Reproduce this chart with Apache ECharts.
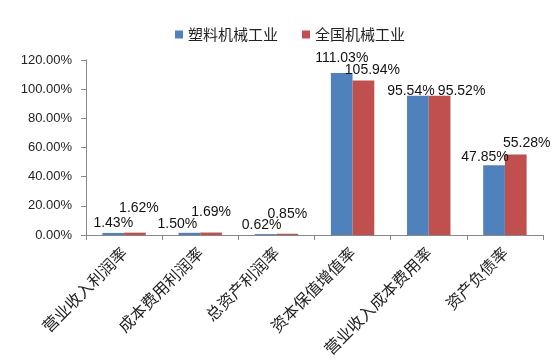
<!DOCTYPE html>
<html><head><meta charset="utf-8">
<script src="https://cdn.jsdelivr.net/npm/echarts@6/dist/echarts.min.js"></script>
<style>html,body{margin:0;padding:0;background:#fff}#c{width:558px;height:363px}</style>
</head><body><div id="c"></div>
<script>
var categories = ['营业收入利润率','成本费用利润率','总资产利润率','资本保值增值率','营业收入成本费用率','资产负债率'];
var seriesNames = ['塑料机械工业','全国机械工业'];
var plasticValues = [1.43, 1.50, 0.62, 111.03, 95.54, 47.85];
var nationalValues = [1.62, 1.69, 0.85, 105.94, 95.52, 55.28];
var yTicks = [0, 20, 40, 60, 80, 100, 120];

// label placement tweaks (styling, not data)
var blueOff = [[0,2],[-12,3],[-4,3],[0,-3],[-7,7],[-9,4]];
var redOff = [[4,-12],[0,-8],[0,-8],[9,2],[22,7],[11,1]];

function mk(vals, offs) {
  return vals.map(function (v, i) {
    return { value: v, label: { offset: offs[i] } };
  });
}

var chart = echarts.init(document.getElementById('c'));
var lblStyle = {
  show: true, position: 'top', distance: 5,
  fontFamily: 'Liberation Sans', fontSize: 14, color: '#111',
  formatter: function (p) { return p.value.toFixed(2) + '%'; }
};
chart.setOption({
  animation: false,
  legend: {
    data: seriesNames, top: 22, left: 170,
    icon: 'rect', itemWidth: 8, itemHeight: 8, itemGap: 24,
    textStyle: { fontFamily: 'Noto Sans CJK SC', fontSize: 15, color: '#222' }
  },
  grid: { left: 86, right: 15, top: 60, bottom: 128 },
  xAxis: {
    type: 'category', data: categories,
    axisLine: { lineStyle: { color: '#888' } },
    axisTick: { show: true, length: 5, lineStyle: { color: '#888' } },
    axisLabel: { rotate: 45, interval: 0, margin: 15, fontFamily: 'Noto Sans CJK SC', fontSize: 16, color: '#222' }
  },
  yAxis: {
    type: 'value', min: yTicks[0], max: yTicks[yTicks.length - 1], interval: 20,
    splitLine: { show: false },
    axisLine: { show: true, lineStyle: { color: '#888' } },
    axisTick: { show: true, length: 5, lineStyle: { color: '#888' } },
    axisLabel: { margin: 14, fontFamily: 'Liberation Sans', fontSize: 13, color: '#222',
      formatter: function (v) { return v.toFixed(2) + '%'; } }
  },
  series: [
    { name: seriesNames[0], type: 'bar', data: mk(plasticValues, blueOff),
      itemStyle: { color: '#4F81BD' }, barGap: '0%', barCategoryGap: '43%', label: lblStyle },
    { name: seriesNames[1], type: 'bar', data: mk(nationalValues, redOff),
      itemStyle: { color: '#C0504D' }, barGap: '0%', barCategoryGap: '43%', label: lblStyle }
  ]
});
</script></body></html>
